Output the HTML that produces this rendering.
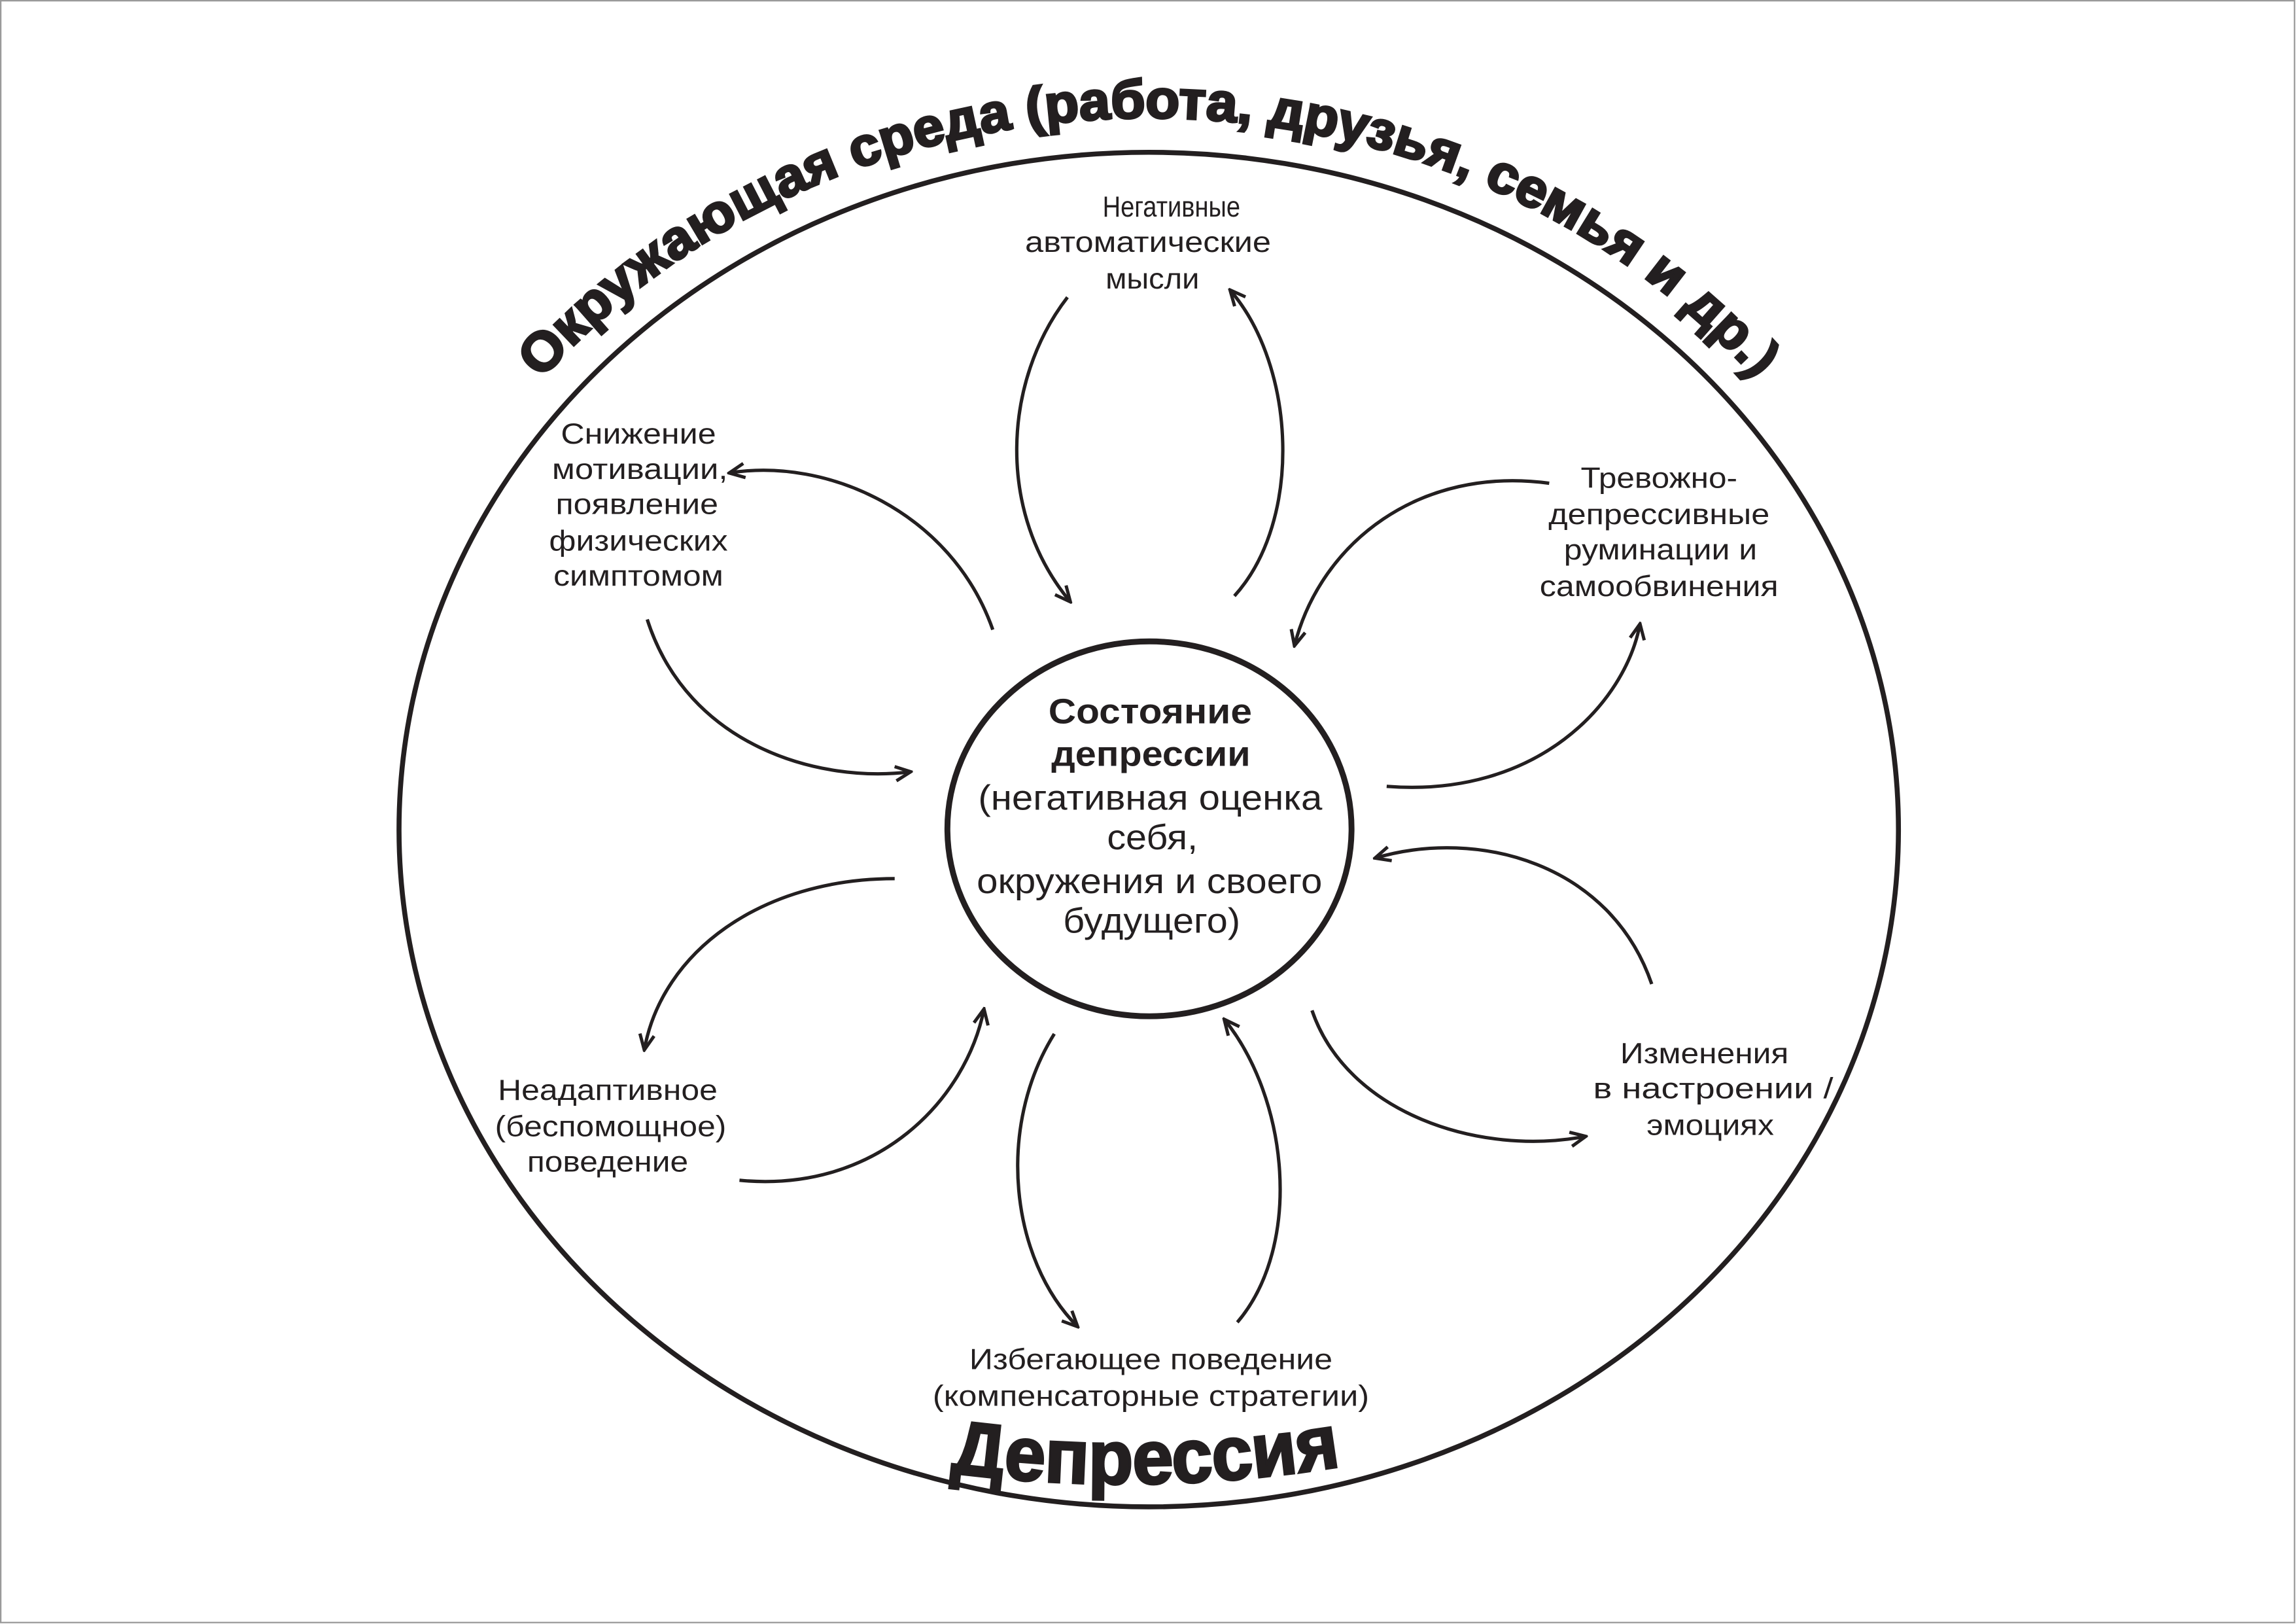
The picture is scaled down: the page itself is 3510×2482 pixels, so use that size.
<!DOCTYPE html>
<html><head><meta charset="utf-8"><style>
html,body{margin:0;padding:0;background:#fff;}
svg{display:block;}
text{font-family:"Liberation Sans",sans-serif;fill:#231f20;}
</style></head><body>
<svg width="3510" height="2482" viewBox="0 0 1568 1109" preserveAspectRatio="none" xmlns="http://www.w3.org/2000/svg">
<defs>
<marker id="a" viewBox="0 0 20 20" refX="18" refY="10" markerWidth="14" markerHeight="14" markerUnits="userSpaceOnUse" orient="auto">
<path d="M3,3 L18,10 L3,17" fill="none" stroke="#231f20" stroke-width="3.2"/>
</marker>
<path id="tp" d="M274,424 A532,478 0 0 1 1295,424"/>
<path id="bp" d="M630,1003 Q783,1026 935,998"/>
</defs>
<rect x="0" y="0" width="1568" height="1109" fill="#fff"/>
<rect x="0.5" y="0.5" width="1566.5" height="1107.5" fill="none" stroke="#9a9a9a" stroke-width="1"/>

<ellipse cx="784.5" cy="566.5" rx="512" ry="462.5" fill="none" stroke="#231f20" stroke-width="3.4"/>
<ellipse cx="785" cy="566" rx="138" ry="128" fill="none" stroke="#231f20" stroke-width="4"/>

<text font-size="37" font-weight="bold" stroke="#231f20" stroke-width="1.6"><textPath href="#tp" startOffset="50%" text-anchor="middle" textLength="930" lengthAdjust="spacingAndGlyphs">Окружающая среда (работа, друзья, семья и др.)</textPath></text>
<text font-size="52" font-weight="bold" stroke="#231f20" stroke-width="1.6"><textPath href="#bp" startOffset="50%" text-anchor="middle" textLength="268" lengthAdjust="spacingAndGlyphs">Депрессия</textPath></text>

<g fill="none" stroke="#231f20" stroke-width="2.3" marker-end="url(#a)">
<path d="M729,203 C685,260 680,350 731,411"/>
<path d="M843,407 C890,355 885,250 840,198"/>
<path d="M678,430 C650,350 565,312 498,323"/>
<path d="M442,423 C470,510 560,535 622,527"/>
<path d="M1058,330 C970,318 902,370 884,441"/>
<path d="M947,537 C1050,545 1110,480 1120,426"/>
<path d="M1128,672 C1100,590 1010,565 939,586"/>
<path d="M896,690 C920,760 1010,790 1083,776"/>
<path d="M720,706 C680,770 690,860 736,906"/>
<path d="M845,903 C890,850 880,750 836,696"/>
<path d="M611,600 C520,600 452,650 440,717"/>
<path d="M505,806 C600,815 660,750 672,689"/>
</g>

<g font-size="20" text-anchor="middle">
<text x="800" y="148" textLength="94" lengthAdjust="spacingAndGlyphs">Негативные</text>
<text x="784" y="172" textLength="168" lengthAdjust="spacingAndGlyphs">автоматические</text>
<text x="787" y="197" textLength="64" lengthAdjust="spacingAndGlyphs">мысли</text>

<text x="436" y="303" textLength="106" lengthAdjust="spacingAndGlyphs">Снижение</text>
<text x="437" y="327" textLength="120" lengthAdjust="spacingAndGlyphs">мотивации,</text>
<text x="435" y="351" textLength="111" lengthAdjust="spacingAndGlyphs">появление</text>
<text x="436" y="376" textLength="122" lengthAdjust="spacingAndGlyphs">физических</text>
<text x="436" y="400" textLength="116" lengthAdjust="spacingAndGlyphs">симптомом</text>

<text x="1133" y="333" textLength="107" lengthAdjust="spacingAndGlyphs">Тревожно-</text>
<text x="1133" y="358" textLength="151" lengthAdjust="spacingAndGlyphs">депрессивные</text>
<text x="1134" y="382" textLength="132" lengthAdjust="spacingAndGlyphs">руминации и</text>
<text x="1133" y="407" textLength="163" lengthAdjust="spacingAndGlyphs">самообвинения</text>

<text x="1164" y="726" textLength="115" lengthAdjust="spacingAndGlyphs">Изменения</text>
<text x="1170" y="750" textLength="164" lengthAdjust="spacingAndGlyphs">в настроении /</text>
<text x="1168" y="775" textLength="87" lengthAdjust="spacingAndGlyphs">эмоциях</text>

<text x="415" y="751" textLength="150" lengthAdjust="spacingAndGlyphs">Неадаптивное</text>
<text x="417" y="776" textLength="158" lengthAdjust="spacingAndGlyphs">(беспомощное)</text>
<text x="415" y="800" textLength="110" lengthAdjust="spacingAndGlyphs">поведение</text>

<text x="786" y="935" textLength="248" lengthAdjust="spacingAndGlyphs">Избегающее поведение</text>
<text x="786" y="960" textLength="298" lengthAdjust="spacingAndGlyphs">(компенсаторные стратегии)</text>
</g>

<g font-size="24" text-anchor="middle">
<text x="785.5" y="494" font-weight="bold" textLength="139" lengthAdjust="spacingAndGlyphs">Состояние</text>
<text x="786" y="523" font-weight="bold" textLength="136" lengthAdjust="spacingAndGlyphs">депрессии</text>
<text x="785.5" y="553" textLength="235" lengthAdjust="spacingAndGlyphs">(негативная оценка</text>
<text x="787" y="580" textLength="62" lengthAdjust="spacingAndGlyphs">себя,</text>
<text x="785" y="610" textLength="236" lengthAdjust="spacingAndGlyphs">окружения и своего</text>
<text x="786.5" y="637" textLength="121" lengthAdjust="spacingAndGlyphs">будущего)</text>
</g>
</svg>
</body></html>
